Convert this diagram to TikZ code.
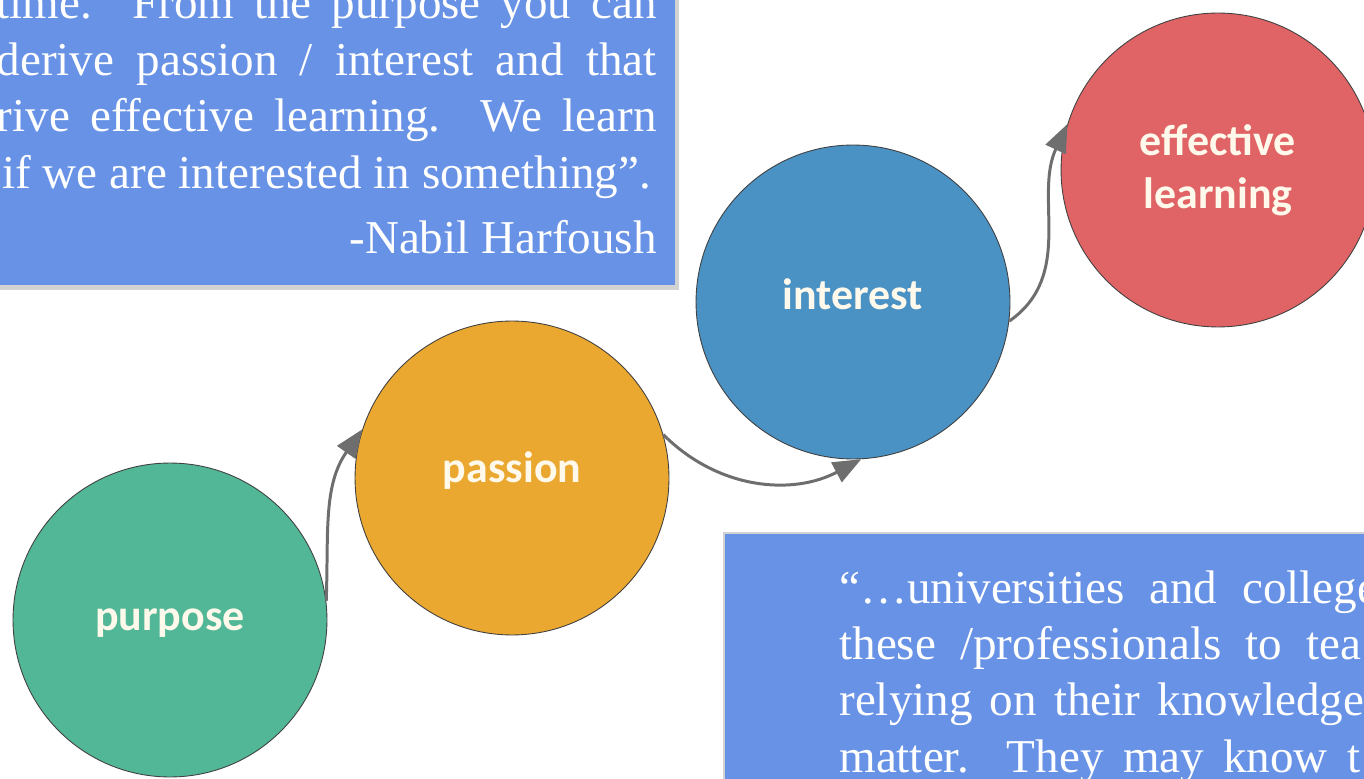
\documentclass[tikz,border=0pt]{standalone}
\usepackage{fontspec}
\setmainfont{Liberation Serif}
\newfontfamily\labelfont{Carlito}
\usetikzlibrary{arrows.meta,shadows}

\definecolor{quotebox}{HTML}{6892E6}
\definecolor{purposegreen}{HTML}{52B796}
\definecolor{passionorange}{HTML}{EBA830}
\definecolor{interestblue}{HTML}{4A91C4}
\definecolor{learningred}{HTML}{E06466}
\definecolor{arrowgray}{HTML}{6E6E6E}
\definecolor{labelwhite}{HTML}{FFF9EC}

\begin{document}
\begin{tikzpicture}[x=0.02cm,y=0.02cm,
  stage/.style={circle,draw=black!75,line width=0.5pt,minimum size=6.28cm,inner sep=0pt,
    text=labelwhite,align=center,font=\labelfont\bfseries\fontsize{25}{30}\selectfont},
  flow/.style={arrowgray,line width=1.7pt,-{Triangle[length=16pt,width=12.5pt]}},
  quote/.style={fill=quotebox},
  quoteline/.style={inner sep=0pt,text=white,font=\fontsize{26.8}{30}\selectfont}]
\useasboundingbox (0,0) rectangle (1364,778);
\clip (0,0) rectangle (1364,778);

% quote boxes
\fill[quote,drop shadow={shadow xshift=2pt,shadow yshift=-3pt,opacity=0.35}] (-20,493) rectangle (675,800);
\filldraw[quote,draw=gray!35,line width=1pt] (724,-20) rectangle (1400,245);

\node[quoteline,anchor=base east] (q1) at (657,759) {\makebox[13.2cm][s]{time.\ \ From the purpose you can}};
\node[quoteline,anchor=base east] (q2) at (657,702) {\makebox[13.2cm][s]{derive passion / interest and that}};
\node[quoteline,anchor=base east] (q3) at (657,646) {\makebox[13.2cm][s]{rive effective learning.\ \ We learn}};
\node[quoteline,anchor=base west] (q4) at (2,589) {if we are interested in something”.};
\node[quoteline,anchor=base east] (q5) at (657,524) {-Nabil Harfoush};

\node[quoteline,anchor=base west] (u1) at (839,175) {\makebox[10.78cm][s]{“…universities and college}};
\node[quoteline,anchor=base west] (u2) at (839,119) {\makebox[10.44cm][s]{these /professionals to tea}};
\node[quoteline,anchor=base west] (u3) at (839,63) {\makebox[10.5cm][s]{relying on their knowledge}};
\node[quoteline,anchor=base west] (u4) at (839,6) {\makebox[10.42cm][s]{matter. They may know t}};

% stages
\node[stage,fill=purposegreen] (purpose) at (170,158) {\raisebox{-0.06cm}[\height][\depth]{purpose}};
\node[stage,fill=passionorange] (passion) at (512,300) {\raisebox{0.14cm}[\height][\depth]{passion}};
\node[stage,fill=interestblue] (interest) at (853,476) {\raisebox{0.16cm}[\height][\depth]{interest}};
\node[stage,fill=learningred] (learning) at (1218,608) {effective\\learning};

% connectors
\draw[flow] (purpose.7) to[out=88,in=235] (passion.162);
\draw[flow] (passion.16) to[out=-45,in=208] (interest.273);
\draw[flow] (interest.353) to[out=35,in=245] (learning.163);
\end{tikzpicture}
\end{document}
